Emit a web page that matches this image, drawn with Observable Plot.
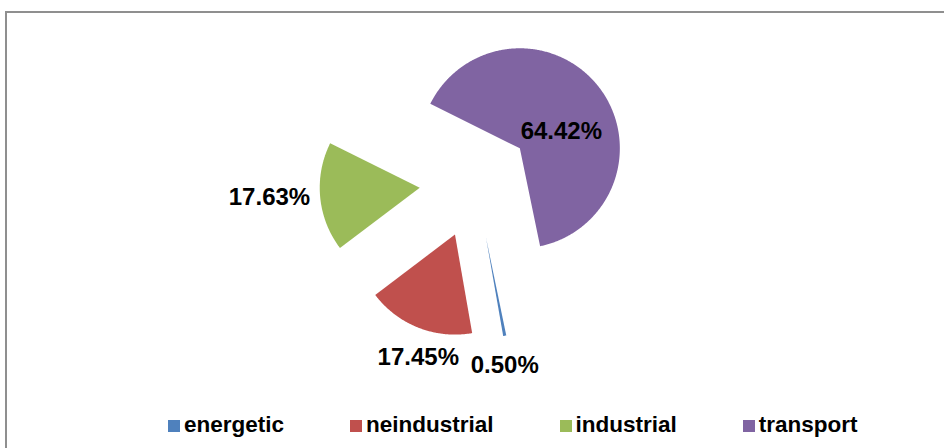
<!DOCTYPE html>
<html>
<head>
<meta charset="utf-8">
<script src="https://cdn.jsdelivr.net/npm/d3@7"></script>
<script src="https://cdn.jsdelivr.net/npm/@observablehq/plot@0.6"></script>
<style>
  html, body { margin: 0; padding: 0; background: #fff; width: 944px; height: 448px; overflow: hidden; }
  #frame { position: absolute; left: 5px; top: 11px; width: 1100px; height: 600px;
           border-left: 2px solid #8f8f8f; border-top: 2px solid #8f8f8f; box-sizing: border-box; }
  #chart { position: absolute; left: 0; top: 0; }
  #legend { position: absolute; left: 168px; top: 414px; display: flex; gap: 66px;
            font: bold 22.5px "Liberation Sans", Arial, sans-serif; line-height: 1; color: #000; white-space: nowrap; }
  #legend .sw { display: inline-block; width: 12px; height: 12px; margin-right: 4px; vertical-align: baseline; }
</style>
</head>
<body>
<div id="frame"></div>
<div id="chart"></div>
<div id="legend"></div>
<script>
(function () {
// ---- data ----
const categories = ["energetic", "neindustrial", "industrial", "transport"];
const shares = [0.50, 17.45, 17.63, 64.42];
const labels = ["0.50%", "17.45%", "17.63%", "64.42%"];
const colors = ["#4F81BD", "#C0504D", "#9BBB59", "#8064A2"];

// ---- layout ----
const W = 944, H = 405;
const R = 100;             // pie radius in px
const cx = 475, cy = 182;  // pie centre in px
const firstSliceAngle = 168.3; // degrees clockwise from 12 o'clock
const explode = 0.56;      // explosion as fraction of radius
const gapSide = 10, gapBottom = 20; // label gaps in px

const total = d3.sum(shares);
const rad = d => d * Math.PI / 180;
let acc = firstSliceAngle;
const slices = categories.map((c, i) => {
  const a0 = acc, a1 = acc + shares[i] / total * 360;
  acc = a1;
  const m = rad((a0 + a1) / 2);
  return {c, a0, a1, ux: Math.sin(m), uy: Math.cos(m), share: shares[i], label: labels[i], mid: (a0 + a1) / 2};
});

// slice outlines in radius units (y up)
const pts = [];
for (const s of slices) {
  const ox = explode * s.ux, oy = explode * s.uy;
  pts.push({c: s.c, x: ox, y: oy});
  const n = Math.max(3, Math.ceil((s.a1 - s.a0) * 2));
  for (let k = 0; k <= n; k++) {
    const a = rad(s.a0 + (s.a1 - s.a0) * k / n);
    pts.push({c: s.c, x: ox + Math.sin(a), y: oy + Math.cos(a)});
  }
}

// label positions
const lInside = [], lLeft = [], lRight = [], lBottom = [], lTop = [];
for (const s of slices) {
  const px = (explode + 1) * s.ux, py = (explode + 1) * s.uy;
  if (s.share > 30) {
    const t = rad(s.mid + 15);
    lInside.push({label: s.label, x: explode * s.ux + 0.45 * Math.sin(t), y: explode * s.uy + 0.45 * Math.cos(t)});
  } else if (Math.abs(s.ux) >= Math.abs(s.uy)) {
    (s.ux < 0 ? lLeft : lRight).push({label: s.label, x: px + Math.sign(s.ux) * gapSide / R, y: py});
  } else if (s.uy < 0) {
    lBottom.push({label: s.label, x: px, y: py - gapBottom / R});
  } else {
    lTop.push({label: s.label, x: px, y: py + gapBottom / R});
  }
}

const textOpts = {x: "x", y: "y", text: "label", fontSize: 24, fontWeight: "bold", fill: "#000"};

const chart = Plot.plot({
  width: W, height: H,
  margin: 0,
  x: {domain: [-cx / R, (W - cx) / R], axis: null},
  y: {domain: [(cy - H) / R, cy / R], axis: null},
  color: {domain: categories, range: colors},
  style: {fontFamily: "'Liberation Sans', Arial, sans-serif", background: "transparent"},
  marks: [
    Plot.line(pts, {x: "x", y: "y", z: "c", fill: "c", stroke: "none", curve: "linear-closed"}),
    Plot.text(lInside, {...textOpts}),
    Plot.text(lLeft, {...textOpts, textAnchor: "end"}),
    Plot.text(lRight, {...textOpts, textAnchor: "start"}),
    Plot.text(lBottom, {...textOpts, lineAnchor: "top"}),
    Plot.text(lTop, {...textOpts, lineAnchor: "bottom"})
  ]
});
document.getElementById("chart").append(chart);

// legend
const lg = document.getElementById("legend");
categories.forEach((c, i) => {
  const item = document.createElement("span");
  const sw = document.createElement("span");
  sw.className = "sw";
  sw.style.background = colors[i];
  item.append(sw, document.createTextNode(c));
  lg.append(item);
});
})();
</script>
</body>
</html>
